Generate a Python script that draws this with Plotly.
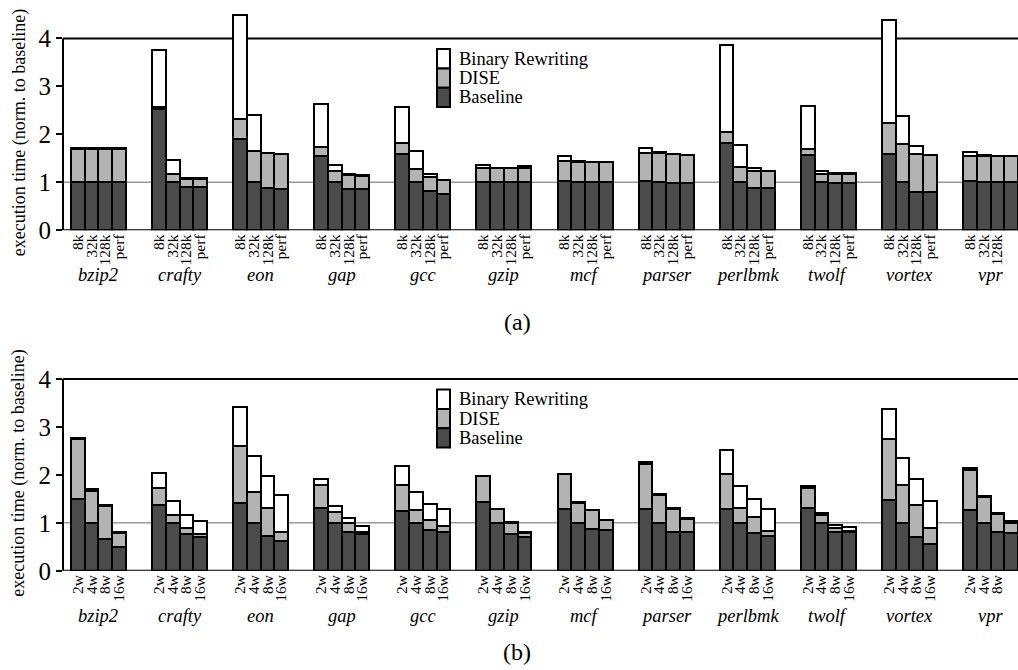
import plotly.graph_objects as go

benchmarks = ["bzip2", "crafty", "eon", "gap", "gcc", "gzip", "mcf",
              "parser", "perlbmk", "twolf", "vortex", "vpr"]
cache_labels = ["8k", "32k", "128k", "perf"]
width_labels = ["2w", "4w", "8w", "16w"]
series_names = ["Baseline", "DISE", "Binary Rewriting"]

# (a) cumulative heights per benchmark (8k, 32k, 128k, perf)
a_base = [[1.00, 1.00, 1.00, 1.00], [2.52, 1.00, 0.90, 0.90], [1.91, 1.00, 0.88, 0.87],
          [1.55, 1.00, 0.87, 0.87], [1.59, 1.00, 0.81, 0.75], [1.00, 1.00, 1.00, 1.00],
          [1.02, 1.00, 1.00, 1.00], [1.03, 1.00, 0.98, 0.98], [1.82, 1.00, 0.89, 0.88],
          [1.58, 1.00, 0.99, 0.99], [1.60, 1.00, 0.80, 0.79], [1.03, 1.00, 1.00, 1.00]]
a_dise = [[1.69, 1.69, 1.69, 1.69], [2.57, 1.18, 1.08, 1.08], [2.33, 1.65, 1.62, 1.60],
          [1.74, 1.23, 1.16, 1.14], [1.81, 1.27, 1.11, 1.04], [1.29, 1.29, 1.29, 1.29],
          [1.44, 1.43, 1.42, 1.42], [1.61, 1.61, 1.59, 1.57], [2.04, 1.31, 1.24, 1.23],
          [1.70, 1.18, 1.18, 1.18], [2.23, 1.79, 1.60, 1.58], [1.55, 1.55, 1.54, 1.54]]
a_br = [[1.71, 1.71, 1.71, 1.71], [3.76, 1.46, 1.09, 1.09], [4.49, 2.41, 1.62, 1.60],
        [2.64, 1.36, 1.17, 1.15], [2.56, 1.65, 1.18, 1.05], [1.37, 1.30, 1.30, 1.34],
        [1.55, 1.44, 1.43, 1.43], [1.71, 1.63, 1.60, 1.58], [3.86, 1.77, 1.29, 1.24],
        [2.59, 1.23, 1.20, 1.19], [4.38, 2.38, 1.75, 1.58], [1.63, 1.56, 1.55, 1.55]]

# (b) cumulative heights per benchmark (2w, 4w, 8w, 16w)
b_base = [[1.51, 1.00, 0.67, 0.50], [1.39, 1.00, 0.77, 0.72], [1.42, 1.00, 0.74, 0.63],
          [1.31, 1.00, 0.82, 0.77], [1.25, 1.00, 0.86, 0.83], [1.44, 1.00, 0.78, 0.72],
          [1.30, 1.00, 0.89, 0.86], [1.30, 1.00, 0.83, 0.81], [1.30, 1.00, 0.79, 0.73],
          [1.31, 1.00, 0.83, 0.82], [1.48, 1.00, 0.71, 0.58], [1.27, 1.00, 0.81, 0.79]]
b_dise = [[2.75, 1.68, 1.37, 0.79], [1.73, 1.18, 0.90, 0.77], [2.61, 1.65, 1.32, 0.83],
          [1.79, 1.23, 1.01, 0.83], [1.79, 1.27, 1.06, 0.94], [1.98, 1.29, 1.01, 0.80],
          [2.02, 1.43, 1.27, 1.06], [2.24, 1.60, 1.29, 1.10], [2.03, 1.31, 1.13, 0.85],
          [1.74, 1.18, 0.90, 0.85], [2.76, 1.79, 1.39, 0.90], [2.12, 1.55, 1.20, 1.01]]
b_br = [[2.78, 1.72, 1.38, 0.81], [2.04, 1.46, 1.17, 1.04], [3.43, 2.41, 1.98, 1.59],
        [1.93, 1.36, 1.11, 0.95], [2.19, 1.65, 1.41, 1.29], [1.99, 1.30, 1.02, 0.81],
        [2.03, 1.44, 1.28, 1.07], [2.28, 1.61, 1.32, 1.11], [2.52, 1.77, 1.51, 1.29],
        [1.77, 1.22, 0.97, 0.92], [3.39, 2.37, 1.93, 1.46], [2.16, 1.57, 1.21, 1.04]]

# ---------------- layout constants ----------------
W, H = 1018, 685
REF_H = 670          # design frame (reference picture height)
ML = 63
PW = W - ML
PERIOD = 5.9
XR = [-0.58, 68.9]
FONT = "Liberation Serif, Times New Roman, serif"
COLORS = ["#4b4b4b", "#b3b3b3", "#ffffff"]


def px_y(p):
    return 1 - p / REF_H


def px_x(p):
    return (p - ML) / PW


def centers():
    return [g * PERIOD + j + 0.5 for g in range(len(benchmarks)) for j in range(4)]


fig = go.Figure()

panels = [
    ("x", "y", a_base, a_dise, a_br, cache_labels, 0, 230),
    ("x2", "y2", b_base, b_dise, b_br, width_labels, 340, 570),
]

for xa, ya, base, dise, br, labels, top_px, bot_px in panels:
    xs = centers()
    flat_base = [v for grp in base for v in grp]
    flat_dise = [v for grp in dise for v in grp]
    flat_br = [v for grp in br for v in grp]
    segs = [flat_base,
            [d - b for d, b in zip(flat_dise, flat_base)],
            [r - d for r, d in zip(flat_br, flat_dise)]]
    for name, seg, col in zip(series_names, segs, COLORS):
        fig.add_trace(go.Bar(x=xs, y=seg, name=name, width=1,
                             marker=dict(color=col, line=dict(color="black", width=2)),
                             xaxis=xa, yaxis=ya, showlegend=False, cliponaxis=False))

    xref = xa
    yref = ya
    xdom = xa + " domain"
    fig.add_shape(type="line", xref=xdom, yref=yref, x0=0, x1=1, y0=1, y1=1,
                  line=dict(color="#9a9a9a", width=1.5), layer="below")
    fig.add_shape(type="line", xref=xdom, yref=yref, x0=0, x1=1, y0=4, y1=4,
                  line=dict(color="black", width=2), layer="below")
    fig.add_shape(type="line", xref=xdom, yref=yref, x0=0, x1=1, y0=0, y1=0,
                  line=dict(color="black", width=2), layer="above")
    fig.add_shape(type="line", xref=xdom, yref=yref, x0=0, x1=0, y0=0, y1=4,
                  line=dict(color="black", width=2), layer="above")

    for g, name in enumerate(benchmarks):
        fig.add_annotation(x=g * PERIOD + 2, xref=xref, y=px_y(bot_px + 45), yref="paper",
                           text="<i>" + name + "</i>", showarrow=False,
                           font=dict(family=FONT, size=18.5, color="black"),
                           xanchor="center", yanchor="middle")

    fig.add_annotation(x=px_x(19), xref="paper", y=px_y((top_px + bot_px) / 2 + 18), yref="paper",
                       text="execution time (norm. to baseline)", textangle=-90,
                       showarrow=False, font=dict(family=FONT, size=18, color="black"),
                       xanchor="center", yanchor="middle")

ticks_a = [l for _ in benchmarks for l in cache_labels]
ticks_b = [l for _ in benchmarks for l in width_labels]

axis_common = dict(range=XR, showgrid=False, zeroline=False, showline=False,
                   tickangle=-90, ticks="", tickfont=dict(family=FONT, size=15.5, color="black"),
                   tickmode="array", tickvals=centers())
yaxis_common = dict(range=[0, 4.8], showgrid=False, zeroline=False, showline=False,
                    tickvals=[0, 1, 2, 3, 4], ticks="outside", ticklen=6, tickwidth=2,
                    tickcolor="black", tickfont=dict(family=FONT, size=25, color="black"))

fig.update_layout(
    width=W, height=H,
    margin=dict(l=ML, r=0, t=0, b=0),
    paper_bgcolor="white", plot_bgcolor="rgba(0,0,0,0)",
    barmode="stack", bargap=0,
    showlegend=False,
    xaxis=dict(axis_common, ticktext=ticks_a, anchor="y"),
    xaxis2=dict(axis_common, ticktext=ticks_b, anchor="y2"),
    yaxis=dict(yaxis_common, domain=[px_y(230), px_y(0)], anchor="x"),
    yaxis2=dict(yaxis_common, domain=[px_y(570), px_y(340)], anchor="x2"),
    font=dict(family=FONT, color="black"),
)

for top in (49, 389):
    for k, (name, col) in enumerate(zip(reversed(series_names), reversed(COLORS))):
        y0 = top + k * 19.3
        fig.add_shape(type="rect", xref="paper", yref="paper",
                      x0=px_x(437), x1=px_x(450), y0=px_y(y0 + 19.3), y1=px_y(y0),
                      fillcolor=col, line=dict(color="black", width=2))
        fig.add_annotation(x=px_x(457), xref="paper", y=px_y(y0 + 9.6), yref="paper",
                           text=name, showarrow=False, xanchor="left", yanchor="middle",
                           font=dict(family=FONT, size=18.5, color="black"))

fig.add_annotation(x=px_x(517), xref="paper", y=px_y(322), yref="paper", text="(a)",
                   showarrow=False, font=dict(family=FONT, size=24, color="black"))
fig.add_annotation(x=px_x(517), xref="paper", y=px_y(666), yref="paper", text="(b)",
                   showarrow=False, font=dict(family=FONT, size=24, color="black"))

fig.write_html(
    "out.html",
    config={"displayModeBar": False},
    post_script=("document.documentElement.style.margin='0';"
                 "document.body.style.margin='0';"),
)
